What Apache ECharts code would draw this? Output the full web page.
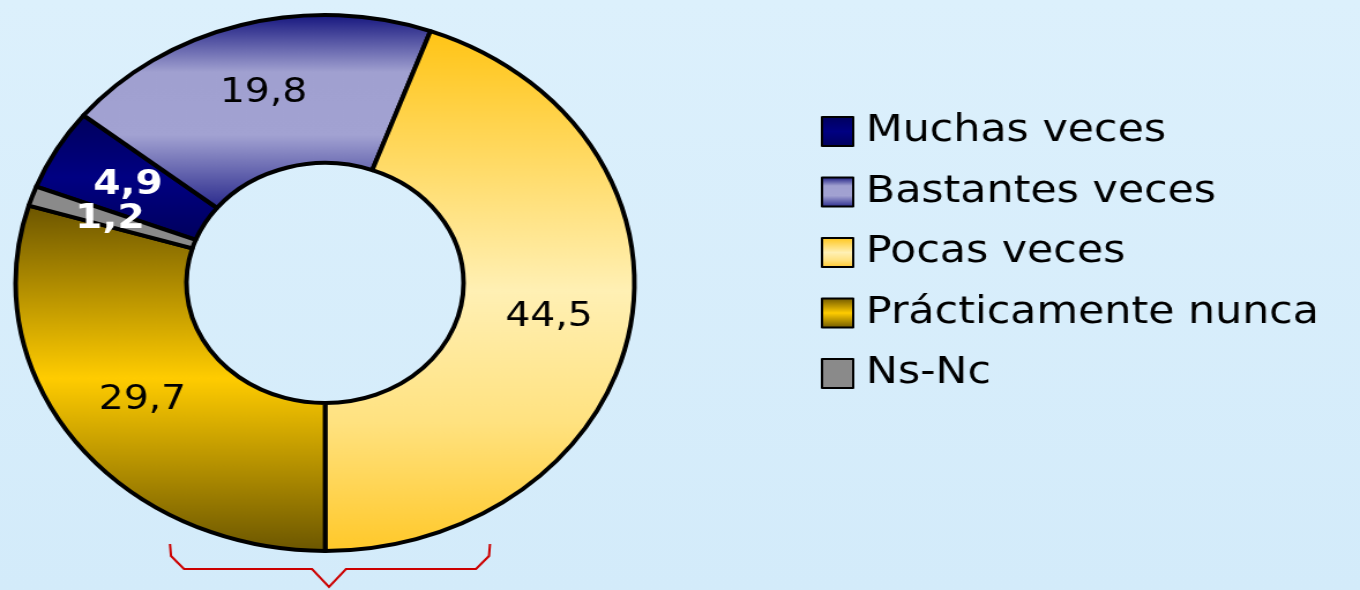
<!DOCTYPE html>
<html>
<head>
<meta charset="utf-8">
<script src="https://cdn.jsdelivr.net/npm/echarts@6/dist/echarts.min.js"></script>
<style>
  html, body { margin: 0; padding: 0; }
  body {
    width: 1360px; height: 590px; overflow: hidden;
    background: linear-gradient(#dcf0fc, #d3ebfa);
  }
  /* el original está estirado en horizontal: se reproduce con un escalado */
  #grafico {
    width: 1178px; height: 590px;
    transform: scaleX(1.1545); transform-origin: 0 0;
  }
</style>
</head>
<body>
<div id="grafico"></div>
<script>
// Datos (porcentajes)
var categorias = ["Muchas veces", "Bastantes veces", "Pocas veces", "Prácticamente nunca", "Ns-Nc"];
var valores = [4.9, 19.8, 44.5, 29.7, 1.2];
var coloresEtiqueta = ["#ffffff", "#000000", "#000000", "#000000", "#ffffff"];

var K = 1.1545; // factor de estiramiento horizontal

function degradado(c1, c2, c3) {
  return new echarts.graphic.LinearGradient(0, 0, 0, 1, [
    { offset: 0, color: c1 },
    { offset: 0.5, color: c2 },
    { offset: 1, color: c3 },
  ]);
}

var rellenos = [
  degradado("#00005c", "#000082", "#00005c"),
  new echarts.graphic.LinearGradient(0, 0, 0, 1, [
    { offset: 0, color: "#12127c" },
    { offset: 0.3, color: "#a0a0d0" },
    { offset: 0.62, color: "#a2a2d2" },
    { offset: 1, color: "#26268a" },
  ]),
  new echarts.graphic.LinearGradient(0, 0, 0, 1, [
    { offset: 0, color: "#ffc414" },
    { offset: 0.5, color: "#fff0b4" },
    { offset: 0.75, color: "#ffe280" },
    { offset: 1, color: "#ffc828" },
  ]),
  new echarts.graphic.LinearGradient(0, 0, 0, 1, [
    { offset: 0, color: "#6a5400" },
    { offset: 0.5, color: "#ffcc00" },
    { offset: 1, color: "#6a5500" },
  ]),
  "#8a8a8a",
];

var datos = [];
for (var i = 0; i < categorias.length; i++) {
  datos.push({
    name: categorias[i],
    value: valores[i],
    itemStyle: { color: rellenos[i] },
    label: {
      color: coloresEtiqueta[i],
      fontWeight: coloresEtiqueta[i] === "#ffffff" ? "bold" : "normal",
    },
  });
}

var llave = [[170, 544], [171, 556], [184, 569], [312, 569], [329, 587], [346, 569], [476, 569], [489, 556], [490, 544]];
var puntosLlave = llave.map(function (p) { return [p[0] / K, p[1]]; });

var option = {
  backgroundColor: "transparent",
  animation: false,
  textStyle: { fontFamily: "DejaVu Sans" },
  legend: {
    orient: "vertical",
    left: 711,
    top: 113,
    padding: 0,
    itemWidth: 27,
    itemHeight: 29,
    itemGap: 23.5,
    icon: "rect",
    data: categorias,
    textStyle: {
      fontFamily: "DejaVu Sans",
      fontSize: 37,
      color: "#000",
      lineHeight: 30,
      padding: [0, 0, 0, 6],
    },
  },
  graphic: [
    {
      type: "polyline",
      shape: { points: puntosLlave },
      style: { stroke: "#cc0000", lineWidth: 2, fill: null },
      silent: true,
    },
  ],
  series: [
    {
      type: "pie",
      center: [325 / K, 283],
      radius: [120, 268],
      startAngle: 158.9,
      clockwise: true,
      avoidLabelOverlap: false,
      itemStyle: { borderColor: "#000", borderWidth: 4 },
      label: {
        show: true,
        position: "inside",
        fontFamily: "DejaVu Sans",
        fontSize: 34,
        formatter: function (p) {
          return String(p.value).replace(".", ",");
        },
      },
      labelLine: { show: false },
      emphasis: { disabled: true },
      data: datos,
    },
  ],
};

var chart = echarts.init(document.getElementById("grafico"));
chart.setOption(option);
</script>
</body>
</html>
